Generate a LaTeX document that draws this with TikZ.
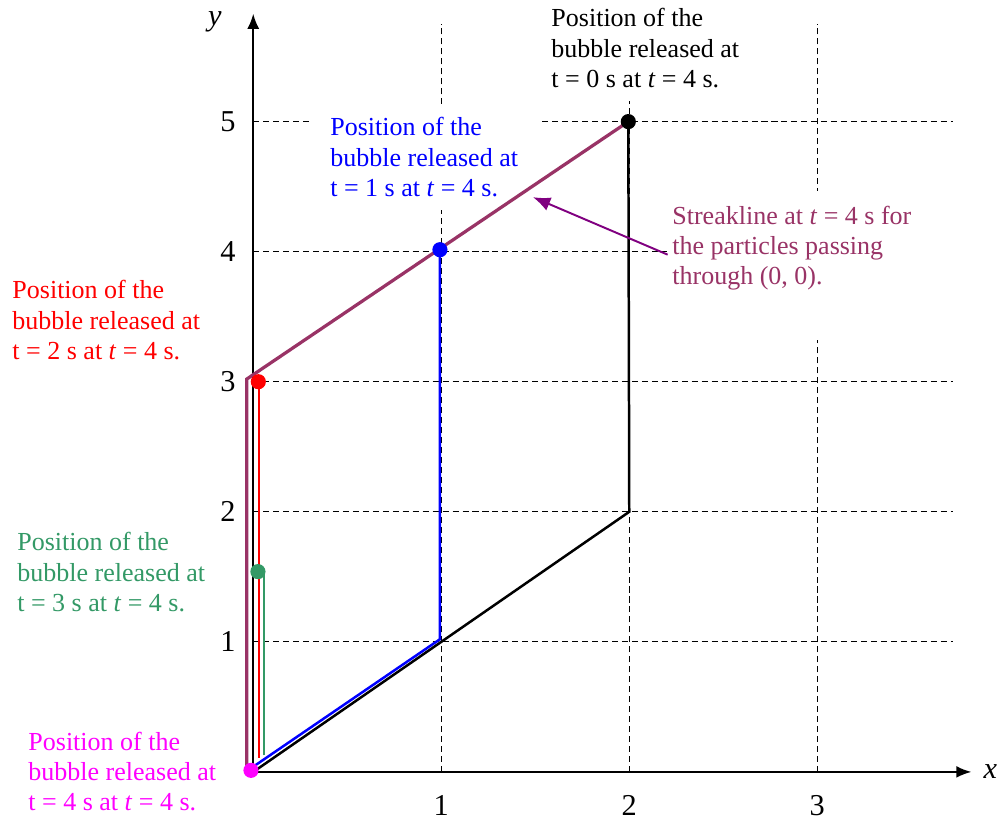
\documentclass[tikz,border=0pt]{standalone}
\usepackage{fontspec}
\setmainfont{Liberation Serif}
\usetikzlibrary{arrows.meta}
\definecolor{streak}{RGB}{153,51,102}
\definecolor{seagreen}{RGB}{51,153,102}
\definecolor{plum}{RGB}{128,0,128}
\definecolor{pink}{RGB}{255,0,255}
\tikzstyle{bubble}=[circle, inner sep=0pt, minimum size=7pt]
\tikzstyle{tag}=[align=left, anchor=west, inner xsep=2pt, inner ysep=6pt, fill=white, font=\fontsize{12}{14}\selectfont]
\tikzstyle{grid line}=[dash pattern=on 2.8pt off 1.8pt, line width=0.5pt]
\tikzstyle{axis}=[line width=0.9pt, -{Latex[length=7pt,width=5.5pt]}]
\tikzstyle{tick}=[font=\fontsize{14}{16}\selectfont]
\tikzstyle{path line}=[line width=1.15pt]
\newcommand{\bubble}{\node[bubble]}

\begin{document}
\begin{tikzpicture}[x=3.05cm, y=2.11cm]
	\useasboundingbox (-1.347,-0.365) rectangle (3.972,5.935);
	% grid
	\foreach \i in {1,...,5}
		\draw[grid line] (0,\i) -- (3.72,\i);
	\foreach \i in {1,2,3}
		\draw[grid line] (\i,0) -- (\i,5.75);
	\fill[white] (2.2,3.32) rectangle (3.75,4.47);

	% axes
	\coordinate (O) at (0,0);
	\draw[axis] (O) -- (3.82,0);
	\draw[axis] (O) -- (0,5.83);
	\node[tick] (xl) at (3.92,0) {\textit{x}};
	\node[tick] (yl) at (-0.204,5.765) {\textit{y}};
	\foreach \i in {1,...,5}
		\node[tick] (y\i) at (-0.135,\i) {\i};
	\foreach \i in {1,2,3}
		\node[tick] (x\i) at (\i,-0.258) {\i};

	% labels
	\node[tag, text=black] (t0) at (1.561,5.565) {Position of the\\bubble released at\\t = 0 s at \textit{t} = 4 s.};
	\node[tag, text=blue, inner xsep=9pt] (t1) at (0.304,4.727) {Position of the\\bubble released at\\t = 1 s at \textit{t} = 4 s.};
	\node[tag, text=red] (t2) at (-1.306,3.473) {Position of the\\bubble released at\\t = 2 s at \textit{t} = 4 s.};
	\node[tag, text=seagreen] (t3) at (-1.280,1.535) {Position of the\\bubble released at\\t = 3 s at \textit{t} = 4 s.};
	\node[tag, text=pink] (t4) at (-1.221,0.004) {Position of the\\bubble released at\\t = 4 s at \textit{t} = 4 s.};
	\node[tag, text=streak, fill=none] (streakline) at (2.204,4.027) {Streakline at \textit{t} = 4 s for\\the particles passing\\through (0, 0).};

	% bubble positions
	\coordinate (p0) at (1.995,5);
	\coordinate (p1) at (0.993,4.015);
	\coordinate (p2) at (0.027,3);
	\coordinate (p3) at (0.025,1.54);
	\coordinate (p4) at (-0.012,0.012);

	% path lines
	\draw[path line, black] (O) -- (2,2) -- (p0);
	\draw[path line, blue] (0.01,0.05) -- (0.993,1.02) -- (p1);
	\draw[path line, red] (0.03,0.11) -- (0.03,3);
	\draw[path line, seagreen] (0.0585,0.127) -- (0.0585,1.54) -- (p3);
	\draw[path line, streak, line width=1.5pt] (p4) -- (-0.035,0.02) -- (-0.035,3.02) -- (p0);

	% bubbles
	\bubble[fill=black] (b0) at (p0) {};
	\bubble[fill=blue] (b1) at (p1) {};
	\bubble[fill=red] (b2) at (p2) {};
	\bubble[fill=seagreen] (b3) at (p3) {};
	\bubble[fill=pink] (b4) at (p4) {};

	% streakline pointer
	\coordinate (tip) at (1.488,4.419);
	\draw[plum, line width=0.9pt, -{Latex[length=8pt,width=6.5pt]}] ([yshift=-3pt]streakline.west) -- (tip);
\end{tikzpicture}
\end{document}
